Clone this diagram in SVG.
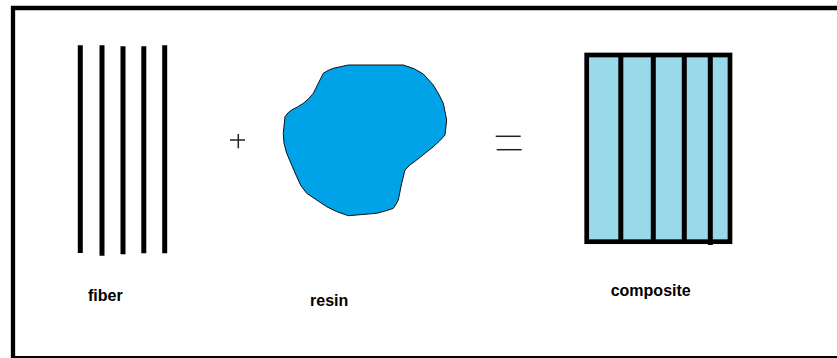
<svg xmlns="http://www.w3.org/2000/svg" width="837" height="358" viewBox="0 0 837 358">
  <style>
    .fib { stroke: #000; stroke-width: 5; stroke-linecap: butt; fill: none; }
    .op { stroke: #222; stroke-width: 1.5; fill: none; }
    .lbl { font-family: "Liberation Sans", Arial, sans-serif; font-weight: bold; font-size: 16px; fill: #000; }
  </style>
  <rect width="837" height="358" fill="#fff"/>
  <g id="frame">
    <path d="M13 358 V8 H837" fill="none" stroke="#000" stroke-width="4.3"/>
    <line x1="11" y1="357" x2="837" y2="357" stroke="#000" stroke-width="2"/>
  </g>
  <g id="fiber">
    <line class="fib" x1="80.3" y1="45.3" x2="80.3" y2="253"/>
    <line class="fib" x1="102" y1="45.3" x2="102" y2="255.7"/>
    <line class="fib" x1="123" y1="46.3" x2="123" y2="254.3"/>
    <line class="fib" x1="143.8" y1="46.3" x2="143.8" y2="253.3"/>
    <line class="fib" x1="164.7" y1="45.3" x2="164.7" y2="253.3"/>
    <text class="lbl" x="88" y="300.7">fiber</text>
  </g>
  <g id="plus">
    <line class="op" x1="230" y1="140" x2="245" y2="140"/>
    <line class="op" x1="238.3" y1="134" x2="238.3" y2="148.3"/>
  </g>
  <g id="resin">
    <path d="M348.3 65 L403.3 65 Q415 68 423.3 74 L433.3 85 Q439 94 443.3 103.3 L446.7 120 L445 135 Q440 141 433.3 146.7 L416.7 160 Q409 165 405 170 L401.7 183.3 L398.3 200 Q396 205 393.3 208.3 Q386 211 376.7 213.3 L348.3 215.7 Q336 212 326.7 206.7 L306.7 193.3 Q300 186 296.7 176.7 L286.7 153.3 Q283 143 283.3 133.3 L285 116.7 Q288 112 291.7 110 Q298 107 303.3 103.3 Q309 99 313.3 93.3 L323.3 73.3 Q328 70 333.3 68.3 Z" fill="#00A2E8" stroke="#111" stroke-width="1"/>
    <text class="lbl" x="310" y="306">resin</text>
  </g>
  <g id="equals">
    <line class="op" x1="495.7" y1="136.3" x2="520.7" y2="136.3"/>
    <line class="op" x1="496.7" y1="149.7" x2="521.7" y2="149.7"/>
  </g>
  <g id="composite">
    <rect x="586.7" y="55" width="143.3" height="186.7" fill="#99D9EA" stroke="#000" stroke-width="4.7"/>
    <line class="fib" x1="620.8" y1="55" x2="620.8" y2="241.7"/>
    <line class="fib" x1="653.3" y1="55" x2="653.3" y2="241.7"/>
    <line class="fib" x1="684.3" y1="55" x2="684.3" y2="241.7"/>
    <line class="fib" x1="710.3" y1="55" x2="710.3" y2="245"/>
    <text class="lbl" x="610.7" y="296">composite</text>
  </g>
  <g id="connectors"/>
</svg>
